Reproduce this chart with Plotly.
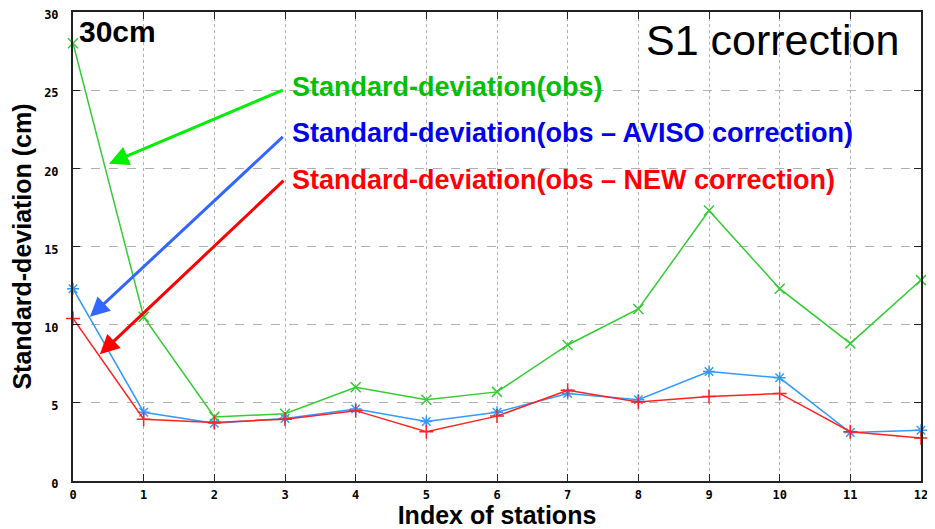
import plotly.graph_objects as go

stations = list(range(13))
std_obs = [28.0, 10.5, 4.1, 4.3, 6.0, 5.2, 5.7, 8.7, 11.0, 17.3, 12.3, 8.8, 12.85]
std_aviso = [12.3, 4.4, 3.7, 4.0, 4.6, 3.8, 4.4, 5.6, 5.2, 7.0, 6.6, 3.1, 3.25]
std_new = [10.4, 3.95, 3.75, 3.95, 4.5, 3.15, 4.15, 5.8, 5.05, 5.4, 5.6, 3.15, 2.75]

labels = ["Standard-deviation(obs)",
          "Standard-deviation(obs \u2013 AVISO correction)",
          "Standard-deviation(obs \u2013 NEW correction)"]
text_colors = ["#00c000", "#0000ee", "#ff0000"]
arrow_colors = ["#00ee00", "#3366ff", "#ff0000"]
line_colors = ["#33cc33", "#3399ff", "#ff2222"]
symbols = ["x-thin-open", "asterisk-open", "cross-thin-open"]
series = [std_obs, std_aviso, std_new]
# arrow (head x, head y, tail x, tail y) in data units, label y position
arrow_heads = [(0.51, 20.3), (0.24, 10.5), (0.38, 8.1)]
arrow_tails = [(2.99, 25.05), (2.99, 22.1), (3.0, 19.3)]
label_y = [25.2, 22.25, 19.25]

fig = go.Figure()
for vals, col, sym in zip(series, line_colors, symbols):
    fig.add_trace(go.Scatter(
        x=stations, y=vals, mode="lines+markers",
        line=dict(color=col, width=1.5),
        marker=dict(symbol=sym, size=10, color=col, line=dict(color=col, width=1.5)),
        showlegend=False, cliponaxis=False))

annotations = []
for (hx, hy), (tx, ty), ac in zip(arrow_heads, arrow_tails, arrow_colors):
    annotations.append(dict(x=hx, y=hy, ax=tx, ay=ty, xref="x", yref="y",
                            axref="x", ayref="y", showarrow=True, arrowhead=2,
                            arrowsize=1.3, arrowwidth=3, arrowcolor=ac, text=""))
for lab, ly, tc in zip(labels, label_y, text_colors):
    annotations.append(dict(x=3.07, y=ly, xref="x", yref="y", xanchor="left",
                            yanchor="middle", showarrow=False, text="<b>" + lab + "</b>",
                            font=dict(family="Liberation Sans, Arial", size=27, color=tc)))
annotations.append(dict(x=0.06, y=28.75, xref="x", yref="y", xanchor="left",
                        yanchor="middle", showarrow=False, text="<b>30cm</b>",
                        font=dict(family="Liberation Sans, Arial", size=30, color="black")))
annotations.append(dict(x=11.72, y=28.2, xref="x", yref="y", xanchor="right",
                        yanchor="middle", showarrow=False, text="S1 correction",
                        font=dict(family="Liberation Sans, Arial", size=43, color="black")))

tickfont = dict(family="DejaVu Sans Mono", size=12, color="black", weight="bold")
fig.update_layout(
    width=927, height=521,
    margin=dict(l=65, r=14, t=4, b=48, autoexpand=False),
    paper_bgcolor="white", plot_bgcolor="white",
    annotations=annotations,
    xaxis=dict(range=[0, 12], dtick=1, tick0=0, showline=True, linecolor="#222",
               linewidth=2, mirror="allticks", ticks="inside", ticklen=7,
               tickcolor="#222", showgrid=True, gridcolor="#b0b0b0", griddash="dot",
               gridwidth=1, zeroline=False, tickfont=tickfont, automargin=False,
               ticklabelstandoff=2, ticklabeloverflow="allow",
               title=dict(text="<b>Index of stations</b>", standoff=4,
                          font=dict(family="Liberation Sans, Arial", size=25, color="black"))),
    yaxis=dict(range=[0, 30], dtick=5, tick0=0, showline=True, linecolor="#222",
               linewidth=2, mirror="allticks", ticks="inside", ticklen=7,
               tickcolor="#222", showgrid=True, gridcolor="#b0b0b0", griddash="dash",
               gridwidth=1, zeroline=False, tickfont=tickfont, automargin=False,
               ticklabelstandoff=10, ticklabeloverflow="allow", ticklabelshift=3,
               title=dict(text="<b>Standard-deviation (cm)</b>", standoff=6,
                          font=dict(family="Liberation Sans, Arial", size=25, color="black"))),
)
fig.write_html("out.html")
